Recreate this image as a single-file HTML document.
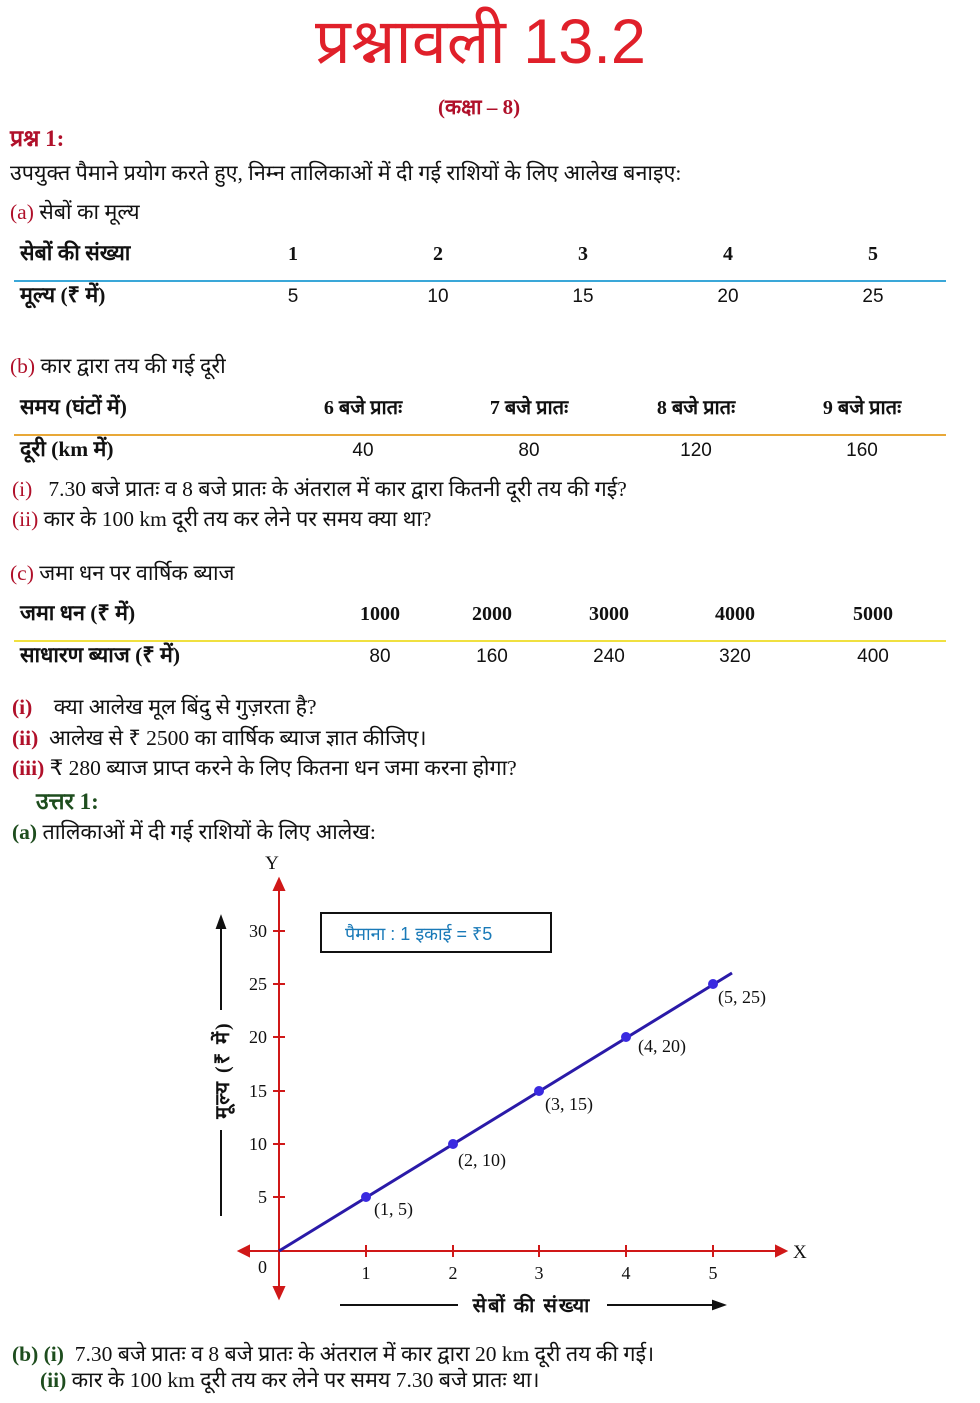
<!DOCTYPE html>
<html><head><meta charset="utf-8">
<style>
body{margin:0;width:980px;height:1403px;background:#fff;position:relative;overflow:hidden;font-family:"Liberation Serif","Noto Sans CJK SC",serif;color:#111}
.t{position:absolute;white-space:nowrap;font-size:21.5px;line-height:1}
.r{color:#b0102a}
.c{position:absolute;white-space:nowrap;font-size:20px;line-height:1;transform:translateX(-50%)}
.s{font-family:"Liberation Sans",sans-serif;font-size:19px}
.b{font-weight:bold}
.hl{position:absolute;left:14px;width:932px;height:2px}
</style></head><body>
<div class="t" style="left:315px;top:11px;font-size:63px;color:#e0202a;font-family:'Liberation Sans',sans-serif">प्रश्नावली 13.2</div>
<div class="t r b" style="left:438px;top:97px;font-size:21px">(कक्षा – 8)</div>
<div class="t r b" style="left:10px;top:127px;font-size:23px">प्रश्न 1:</div>
<div class="t" style="left:10px;top:163px">उपयुक्त पैमाने प्रयोग करते हुए, निम्न तालिकाओं में दी गई राशियों के लिए आलेख बनाइए:</div>
<div class="t" style="left:10px;top:202px"><span class="r">(a)</span> सेबों का मूल्य</div>
<div class="t b" style="left:20px;top:243px">सेबों की संख्या</div>
<div class="c b" style="left:293px;top:244px">1</div><div class="c b" style="left:438px;top:244px">2</div><div class="c b" style="left:583px;top:244px">3</div><div class="c b" style="left:728px;top:244px">4</div><div class="c b" style="left:873px;top:244px">5</div>
<div class="hl" style="top:280px;background:#3aa7d8"></div>
<div class="t b" style="left:20px;top:285px">मूल्य (₹ में)</div>
<div class="c s" style="left:293px;top:287px">5</div><div class="c s" style="left:438px;top:287px">10</div><div class="c s" style="left:583px;top:287px">15</div><div class="c s" style="left:728px;top:287px">20</div><div class="c s" style="left:873px;top:287px">25</div>

<div class="t" style="left:10px;top:356px"><span class="r">(b)</span> कार द्वारा तय की गई दूरी</div>
<div class="t b" style="left:20px;top:397px">समय (घंटों में)</div>
<div class="c b" style="left:363px;top:398px">6 बजे प्रातः</div><div class="c b" style="left:529px;top:398px">7 बजे प्रातः</div><div class="c b" style="left:696px;top:398px">8 बजे प्रातः</div><div class="c b" style="left:862px;top:398px">9 बजे प्रातः</div>
<div class="hl" style="top:434px;background:#e8a838"></div>
<div class="t b" style="left:20px;top:439px">दूरी (km में)</div>
<div class="c s" style="left:363px;top:441px">40</div><div class="c s" style="left:529px;top:441px">80</div><div class="c s" style="left:696px;top:441px">120</div><div class="c s" style="left:862px;top:441px">160</div>
<div class="t" style="left:12px;top:479px"><span class="r">(i)</span>&nbsp;&nbsp; 7.30 बजे प्रातः व 8 बजे प्रातः के अंतराल में कार द्वारा कितनी दूरी तय की गई?</div>
<div class="t" style="left:12px;top:509px"><span class="r">(ii)</span> कार के 100 km दूरी तय कर लेने पर समय क्या था?</div>

<div class="t" style="left:10px;top:563px"><span class="r">(c)</span> जमा धन पर वार्षिक ब्याज</div>
<div class="t b" style="left:20px;top:603px">जमा धन (₹ में)</div>
<div class="c b" style="left:380px;top:604px">1000</div><div class="c b" style="left:492px;top:604px">2000</div><div class="c b" style="left:609px;top:604px">3000</div><div class="c b" style="left:735px;top:604px">4000</div><div class="c b" style="left:873px;top:604px">5000</div>
<div class="hl" style="top:640px;background:#f0e040"></div>
<div class="t b" style="left:20px;top:645px">साधारण ब्याज (₹ में)</div>
<div class="c s" style="left:380px;top:647px">80</div><div class="c s" style="left:492px;top:647px">160</div><div class="c s" style="left:609px;top:647px">240</div><div class="c s" style="left:735px;top:647px">320</div><div class="c s" style="left:873px;top:647px">400</div>
<div class="t" style="left:12px;top:697px"><span class="r b">(i)</span>&nbsp;&nbsp;&nbsp; क्या आलेख मूल बिंदु से गुज़रता है?</div>
<div class="t" style="left:12px;top:728px"><span class="r b">(ii)</span>&nbsp; आलेख से ₹ 2500 का वार्षिक ब्याज ज्ञात कीजिए।</div>
<div class="t" style="left:12px;top:758px"><span class="r b">(iii)</span> ₹ 280 ब्याज प्राप्त करने के लिए कितना धन जमा करना होगा?</div>
<div class="t b" style="left:36px;top:790px;color:#1e4d1e;font-size:23px">उत्तर 1:</div>
<div class="t" style="left:12px;top:822px"><span style="color:#1e4d1e" class="b">(a)</span> तालिकाओं में दी गई राशियों के लिए आलेख:</div>

<svg style="position:absolute;left:0;top:0" width="980" height="1403" font-family="Liberation Serif,serif">
<g stroke="#d01818" stroke-width="2" fill="#d01818">
<line x1="245" y1="1251" x2="778" y2="1251"/>
<line x1="279" y1="885" x2="279" y2="1292"/>
<polygon points="786,1251 776,1246 776,1256"/>
<polygon points="239,1251 249,1246 249,1256"/>
<polygon points="279,879 274,890 284,890"/>
<polygon points="279,1298 274,1287 284,1287"/>
<line x1="366" y1="1245" x2="366" y2="1257"/><line x1="453" y1="1245" x2="453" y2="1257"/><line x1="539" y1="1245" x2="539" y2="1257"/><line x1="626" y1="1245" x2="626" y2="1257"/><line x1="713" y1="1245" x2="713" y2="1257"/>
<line x1="273" y1="1197" x2="285" y2="1197"/><line x1="273" y1="1144" x2="285" y2="1144"/><line x1="273" y1="1091" x2="285" y2="1091"/><line x1="273" y1="1037" x2="285" y2="1037"/><line x1="273" y1="984" x2="285" y2="984"/><line x1="273" y1="931" x2="285" y2="931"/>
</g>
<line x1="279" y1="1251" x2="732" y2="973" stroke="#2a1aa8" stroke-width="3"/>
<g fill="#3a2ae0"><circle cx="366" cy="1197" r="5"/><circle cx="453" cy="1144" r="5"/><circle cx="539" cy="1091" r="5"/><circle cx="626" cy="1037" r="5"/><circle cx="713" cy="984" r="5"/></g>
<g font-size="18" fill="#111">
<text x="272" y="869" font-size="19" text-anchor="middle">Y</text>
<text x="793" y="1258" font-size="19">X</text>
<text x="267" y="1273" text-anchor="end">0</text>
<text x="366" y="1279" text-anchor="middle">1</text><text x="453" y="1279" text-anchor="middle">2</text><text x="539" y="1279" text-anchor="middle">3</text><text x="626" y="1279" text-anchor="middle">4</text><text x="713" y="1279" text-anchor="middle">5</text>
<g text-anchor="end"><text x="267" y="1203">5</text><text x="267" y="1150">10</text><text x="267" y="1097">15</text><text x="267" y="1043">20</text><text x="267" y="990">25</text><text x="267" y="937">30</text></g>
<text x="374" y="1215">(1, 5)</text><text x="458" y="1166">(2, 10)</text><text x="545" y="1110">(3, 15)</text><text x="638" y="1052">(4, 20)</text><text x="718" y="1003">(5, 25)</text>
</g>
<rect x="321" y="913" width="230" height="39" fill="none" stroke="#111" stroke-width="2"/>
<text x="345" y="940" font-size="18" fill="#1a7ab8" font-family="Liberation Sans,sans-serif">पैमाना : 1 इकाई = ₹5</text>
<g stroke="#111" stroke-width="2" fill="#111">
<line x1="221" y1="925" x2="221" y2="1010"/><polygon points="221,917 217,928 225,928"/>
<line x1="221" y1="1130" x2="221" y2="1216"/>
<line x1="340" y1="1305" x2="458" y2="1305"/>
<line x1="607" y1="1305" x2="716" y2="1305"/><polygon points="724,1305 713,1301 713,1309"/>
</g>
<text transform="translate(229,1070) rotate(-90)" font-size="20" text-anchor="middle" fill="#111" font-weight="bold" letter-spacing="2">मूल्य (₹ में)</text>
<text x="532" y="1312" font-size="20" text-anchor="middle" fill="#111" font-weight="bold" letter-spacing="2">सेबों की संख्या</text>
</svg>

<div class="t" style="left:12px;top:1344px"><span class="b" style="color:#1e4d1e">(b) (i)</span>&nbsp; 7.30 बजे प्रातः व 8 बजे प्रातः के अंतराल में कार द्वारा 20 km दूरी तय की गई।</div>
<div class="t" style="left:40px;top:1370px"><span class="b" style="color:#1e4d1e">(ii)</span> कार के 100 km दूरी तय कर लेने पर समय 7.30 बजे प्रातः था।</div>
</body></html>
